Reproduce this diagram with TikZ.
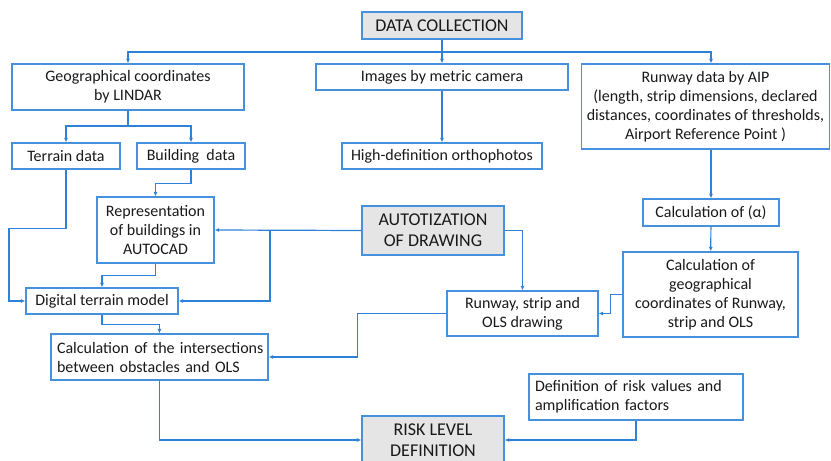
\documentclass[tikz,border=0pt]{standalone}
\usepackage{fontspec}
\setmainfont{Carlito}
\usetikzlibrary{positioning,arrows.meta}
\definecolor{boxblue}{RGB}{70,145,222}
\definecolor{lineblue}{RGB}{45,130,215}
\definecolor{headgray}{RGB}{229,229,229}
\tikzstyle{process} = [rectangle, draw=boxblue, line width=1.2pt, inner sep=0pt, text=black!90, align=center]
\tikzstyle{heading} = [process, fill=headgray, font=\fontsize{18}{21}\selectfont]
\tikzstyle{leftbox} = [process, align=left, inner xsep=6pt]
\tikzstyle{arrow} = [-{Latex[length=4.5pt,width=4pt]}, draw=lineblue, line width=1.2pt]

\begin{document}
\begin{tikzpicture}[x=1pt,y=-1pt,font=\fontsize{16}{19}\selectfont]
		\clip (0,0) rectangle (831,461);
		\node (collection) [heading,minimum width=160,minimum height=27] at (442,25.5) {DATA COLLECTION};
		\node (lidar) [process,minimum width=232,minimum height=46] at (128,87) {Geographical coordinates\\by LINDAR};
		\node (camera) [process,minimum width=252,minimum height=26] at (442,77) {Images by metric camera};
		\node (aip) [process,minimum width=248,minimum height=85] at (705.5,106.5) {Runway data by AIP\\(length, strip dimensions, declared\\distances, coordinates of thresholds,\\Airport Reference Point )};
		\node (terrain) [process,minimum width=108,minimum height=26] at (66,156) {Terrain data};
		\node (building) [process,minimum width=108,minimum height=26] at (191,156) {Building\ \ data};
		\node (ortho) [process,minimum width=200,minimum height=26] at (442,156) {High-definition orthophotos};
		\node (alpha) [process,minimum width=136,minimum height=27] at (711,212.5) {Calculation of (α)};
		\node (autocad) [process,minimum width=117,minimum height=66] at (155.5,230) {Representation\\of buildings in\\AUTOCAD};
		\node (drawing) [heading,minimum width=142,minimum height=49] at (433,230.5) {AUTOTIZATION\\OF DRAWING};
		\node (dtm) [process,minimum width=152,minimum height=26] at (102,301) {Digital terrain model};
		\node (geocalc) [process,minimum width=175,minimum height=85] at (710.5,294.5) {Calculation of\\geographical\\coordinates of Runway,\\strip and OLS};
		\node (ols) [process,minimum width=151,minimum height=45] at (522.5,313.5) {Runway, strip and\\OLS drawing};
		\node (intersect) [leftbox,text width=205,minimum height=46] at (159.5,357) {\mbox{Calculation of the intersections}\\\mbox{between obstacles and OLS}};
		\node (riskvalues) [leftbox,text width=202,minimum height=46] at (636,397) {\mbox{Definition of risk values and}\\\mbox{amplification factors}};
		\node (risk) [heading,minimum width=142,minimum height=48] at (433,440) {RISK LEVEL\\DEFINITION};

		\coordinate (split) at (442,52);
		\coordinate (fork) at (128,126);
		\coordinate (tap) at (270,230.5);

		\draw [lineblue,line width=1.2pt] (collection) -- (split);
		\draw [arrow] (split) -- (camera);
		\draw [arrow] (split) -| (lidar);
		\draw [arrow] (split) -| (alpha.north |- aip.north);
		\draw [arrow] (camera) -- (ortho);
		\draw [lineblue,line width=1.2pt] (lidar) -- (fork);
		\draw [arrow] (fork) -| (terrain);
		\draw [arrow] (fork) -| (building);
		\draw [arrow] (alpha.north |- aip.south) -- (alpha);
		\draw [arrow] (alpha) -- (geocalc);
		\draw [arrow] (building.south) -- ++(0,14) -| (autocad.north);
		\draw [arrow] (terrain.south) -- ++(0,59) -- ++(-57,0) |- (dtm.west);
		\draw [arrow] (drawing.west) -- (autocad.east);
		\draw [arrow] (tap) |- (dtm.east);
		\draw [arrow] (autocad.south) -- ++(0,12) -| (dtm.north);
		\draw [arrow] (dtm.south) -- ++(0,10) -| (intersect.north);
		\draw [arrow] (drawing.east) -| (ols.north);
		\draw [arrow] (geocalc.west) -- ++(-12,0) |- (ols.east);
		\draw [arrow] (ols.west) -- ++(-89,0) |- (intersect.east);
		\draw [arrow] (intersect.south) |- (risk.west);
		\draw [arrow] (riskvalues.south) |- (risk.east);
	\end{tikzpicture}
\end{document}
